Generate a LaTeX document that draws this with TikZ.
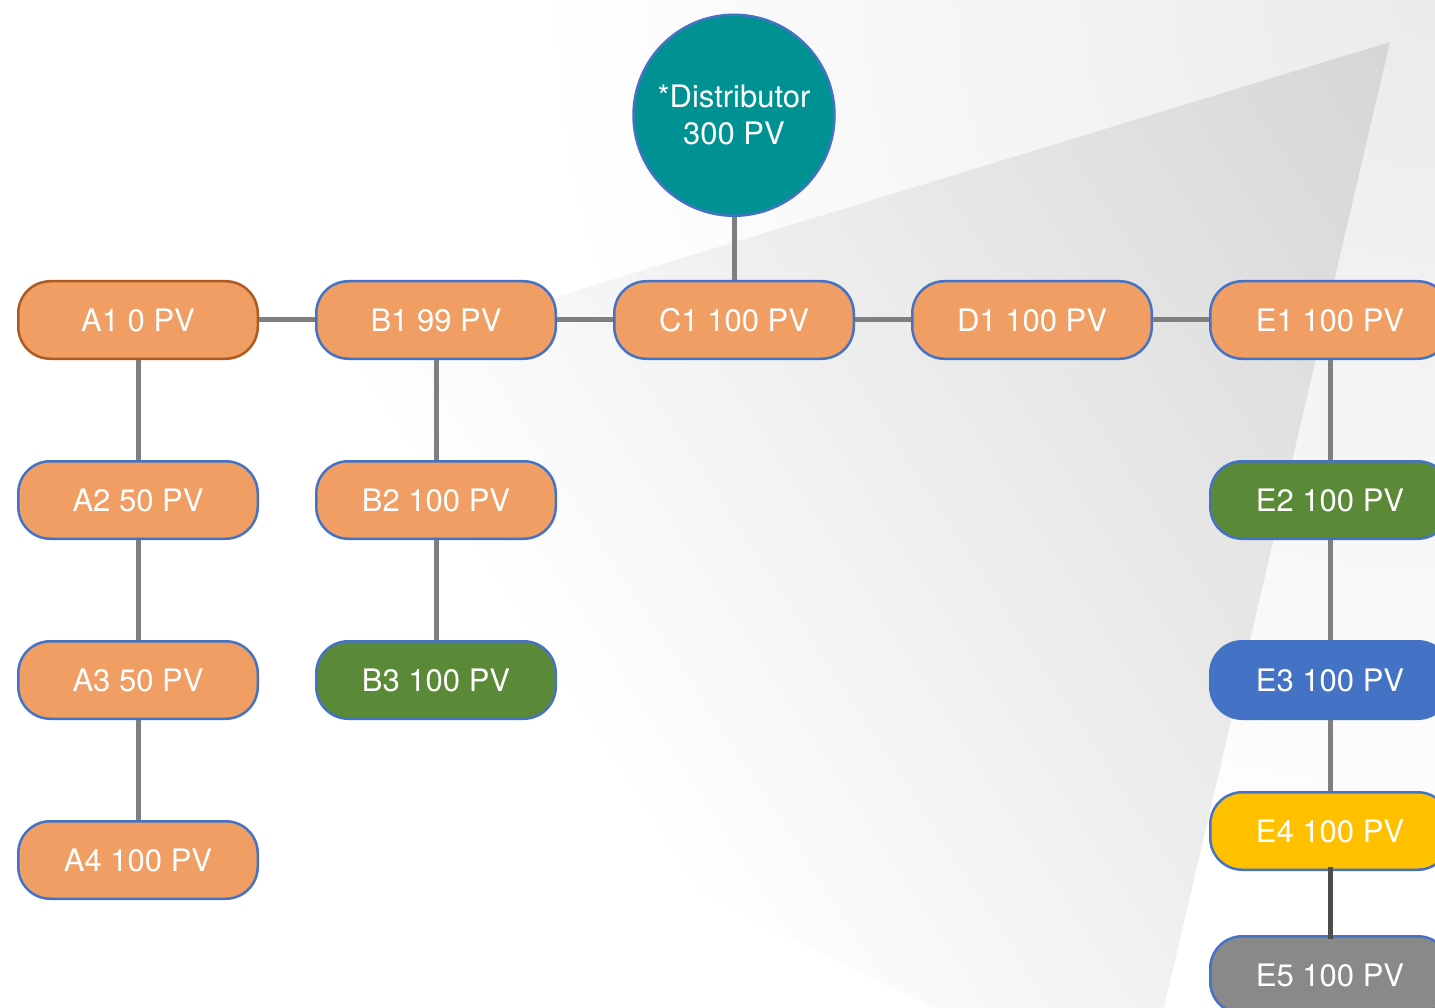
\documentclass[tikz,border=0pt]{standalone}
\usepackage{fontspec}
\setmainfont{TeX Gyre Heros}
\usepackage{xcolor}
\definecolor{pvOrange}{HTML}{F19E65}
\definecolor{pvBlue}{HTML}{4472C4}
\definecolor{pvBrown}{HTML}{AE5A21}
\definecolor{pvGreen}{HTML}{5A8A37}
\definecolor{pvYellow}{HTML}{FFC000}
\definecolor{pvGrey}{HTML}{898989}
\definecolor{pvTeal}{HTML}{009292}
\definecolor{pvLine}{HTML}{7F7F7F}
\usepackage{tikz}
\usetikzlibrary{positioning}
\tikzset{member/.style={draw=pvBlue, fill=pvOrange, line width=2.5pt, rounded corners=32pt, minimum width=239.5pt, minimum height=77.5pt, inner sep=0pt, text=white, font=\fontsize{31}{37}\selectfont}}
\tikzset{root member/.style={member, draw=pvBrown}}
\tikzset{green member/.style={member, fill=pvGreen}}
\tikzset{blue member/.style={member, fill=pvBlue}}
\tikzset{yellow member/.style={member, fill=pvYellow}}
\tikzset{grey member/.style={member, fill=pvGrey}}
\tikzset{distributor/.style={circle, draw=pvBlue, fill=pvTeal, line width=2.5pt, minimum size=201pt, inner sep=0pt, align=center, text=white, font=\fontsize{31}{37}\selectfont}}
\tikzset{every edge/.style={draw=pvLine, line width=5pt}}
\tikzset{strong/.style={draw=pvLine!60!black, shorten <=-4pt, shorten >=-4pt}}

\begin{document}
\begin{tikzpicture}[x=1pt, y=1pt]
\useasboundingbox (0,0) rectangle (1435,-1008);
% background
\begin{scope}
\clip (0,0) rectangle (1435,-1008);
\fill[white] (0,0) rectangle (1435,-1008);
\shade[inner color=gray!16, outer color=white] (1435,0) circle (900);
\end{scope}
\begin{scope}
\clip (1390,-42) -- (-100,-497) -- (1140,-1110) -- cycle;
\begin{scope}[transform canvas={rotate=33}]
\shade[left color=white, right color=gray!42] (90,-2000) rectangle (1450,2000);
\end{scope}
\end{scope}
% first row
\node[root member](a1) at (138,-320){A1 0 PV};
\node[member](b1)[right=56pt of a1]{B1 99 PV} edge(a1);
\node[member](c1)[right=56pt of b1]{C1 100 PV} edge(b1);
\node[distributor](dist)[above=63pt of c1]{*Distributor\\300 PV} edge(c1);
\node[member](d1)[right=56pt of c1]{D1 100 PV} edge(c1);
\node[member](e1)[right=56pt of d1]{E1 100 PV} edge(d1);
% columns
\node[member](a2)[below=100pt of a1]{A2 50 PV} edge(a1);
\node[member](a3)[below=100pt of a2]{A3 50 PV} edge(a2);
\node[member](a4)[below=100pt of a3]{A4 100 PV} edge(a3);
\node[member](b2)[below=100pt of b1]{B2 100 PV} edge(b1);
\node[green member](b3)[below=100pt of b2]{B3 100 PV} edge(b2);
\node[green member](e2)[below=100pt of e1]{E2 100 PV} edge(e1);
\node[blue member](e3)[below=100pt of e2]{E3 100 PV} edge(e2);
\node[yellow member](e4)[below=71pt of e3]{E4 100 PV} edge(e3);
\node[grey member](e5)[below=64pt of e4]{E5 100 PV} edge[strong](e4);
\end{tikzpicture}
\end{document}
